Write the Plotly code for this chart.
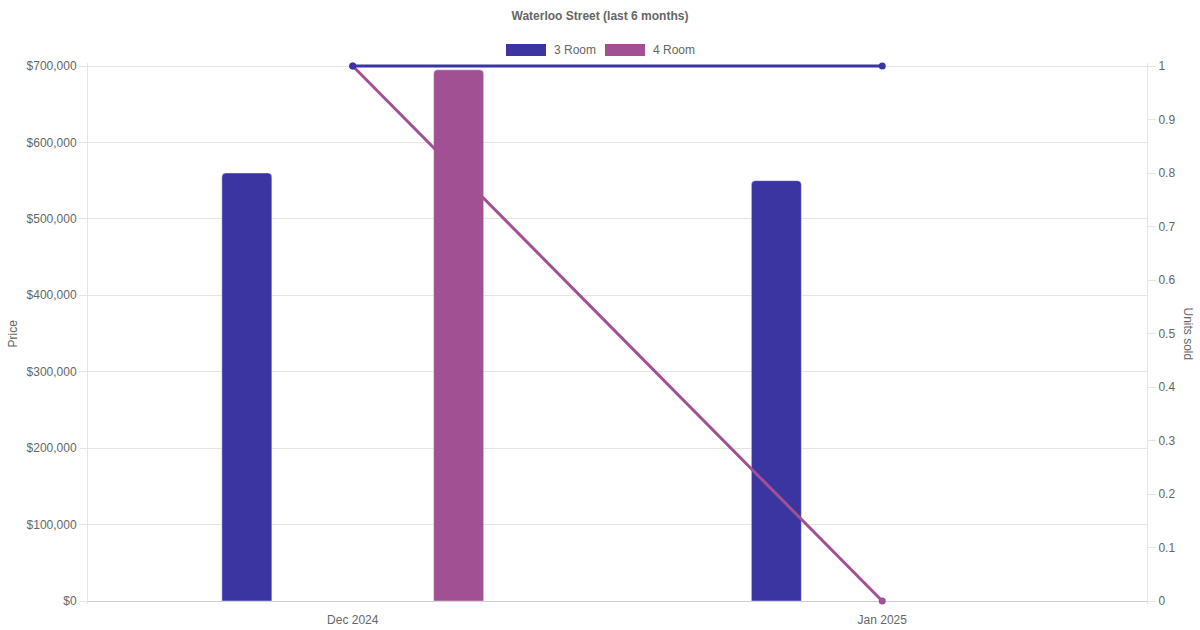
import plotly.graph_objects as go

months = ["Dec 2024", "Jan 2025"]
price_3room = [560000, 550000]
price_4room = [695000, None]
units_3room = [1, 1]
units_4room = [1, 0]
price_ticks = [0, 100000, 200000, 300000, 400000, 500000, 600000, 700000]
price_tick_labels = ["$0", "$100,000", "$200,000", "$300,000", "$400,000", "$500,000", "$600,000", "$700,000"]
units_ticks = [0, 0.1, 0.2, 0.3, 0.4, 0.5, 0.6, 0.7, 0.8, 0.9, 1]
units_tick_labels = ["0", "0.1", "0.2", "0.3", "0.4", "0.5", "0.6", "0.7", "0.8", "0.9", "1"]

c3 = "#3a35a0"
c4 = "#a05093"
txt = "#666666"
font_family = "Liberation Sans, Arial, Helvetica, sans-serif"

fig = go.Figure()
fig.add_trace(go.Bar(x=months, y=price_3room, name="3 Room", marker=dict(color=c3, cornerradius=4), showlegend=False, yaxis="y"))
fig.add_trace(go.Bar(x=months, y=price_4room, name="4 Room", marker=dict(color=c4, cornerradius=4), showlegend=False, yaxis="y"))
fig.add_trace(go.Scatter(x=months, y=units_4room, mode="lines+markers", line=dict(color=c4, width=3),
                         marker=dict(color=c4, size=7), showlegend=False, yaxis="y2", cliponaxis=False))
fig.add_trace(go.Scatter(x=months, y=units_3room, mode="lines+markers", line=dict(color=c3, width=3),
                         marker=dict(color=c3, size=7), showlegend=False, yaxis="y2", cliponaxis=False))

PL, PR, PT, PB = 88, 1147, 63, 604   # plot area on screen (3px padding top/bottom)
W = float(PR - PL)
H = float(PB - PT)
def px(x):
    return (x - PL) / W
def py(y):
    return (PB - y) / H

pad = 3 / 535.0
ymax = 700000

shapes = []
annotations = []
for (x0, x1, tx, col, label) in [(506, 546, 552, c3, "3 Room"), (605, 645, 651, c4, "4 Room")]:
    shapes.append(dict(type="rect", xref="paper", yref="paper", x0=px(x0), x1=px(x1), y0=py(56), y1=py(44),
                       fillcolor=col, line=dict(width=0)))
    annotations.append(dict(xref="paper", yref="paper", x=px(tx), y=py(50), text=label, showarrow=False,
                            xanchor="left", yanchor="middle", font=dict(size=12, color=txt, family=font_family)))

annotations.append(dict(xref="paper", yref="paper", x=px(12), y=py(333.5), text="Price", showarrow=False,
                        textangle=-90, xanchor="center", yanchor="middle", font=dict(size=12, color=txt, family=font_family)))
annotations.append(dict(xref="paper", yref="paper", x=px(1188), y=py(333.5), text="Units sold", showarrow=False,
                        textangle=90, xanchor="center", yanchor="middle", font=dict(size=12, color=txt, family=font_family)))

fig.update_layout(
    width=1200, height=630,
    margin=dict(l=PL, r=1200 - PR, t=PT, b=630 - PB, autoexpand=False),
    paper_bgcolor="white", plot_bgcolor="white",
    font=dict(family=font_family, size=12, color=txt),
    title=dict(text="<b>Waterloo Street (last 6 months)</b>", x=0.5, xanchor="center",
               y=1 - 16 / 630, yref="container", yanchor="middle", font=dict(size=12, color=txt)),
    barmode="group", bargap=0.2, bargroupgap=0.764,
    xaxis=dict(type="category", showgrid=False, showline=False, automargin=False,
               ticks="outside", ticklen=5, tickcolor="rgba(0,0,0,0)",
               tickfont=dict(size=12, color=txt), zeroline=False),
    yaxis=dict(range=[-ymax * pad, ymax * (1 + pad)], tickvals=price_ticks, ticktext=price_tick_labels,
               showgrid=True, gridcolor="#e5e5e5", showline=True, linecolor="#e5e5e5", automargin=False,
               ticks="outside", ticklen=8, tickcolor="#e5e5e5", tickfont=dict(size=12, color=txt),
               zeroline=True, zerolinecolor="#cfcfcf", zerolinewidth=1),
    yaxis2=dict(range=[-pad, 1 + pad], tickvals=units_ticks, ticktext=units_tick_labels,
                overlaying="y", side="right", showgrid=False, showline=True, automargin=False,
                linecolor="#e5e5e5", ticks="outside", ticklen=8, tickcolor="#e5e5e5",
                tickfont=dict(size=12, color=txt), zeroline=False),
    shapes=shapes, annotations=annotations,
)

fig.write_html("out.html", post_script="document.body.style.margin='0';",
               config={"displayModeBar": False})
